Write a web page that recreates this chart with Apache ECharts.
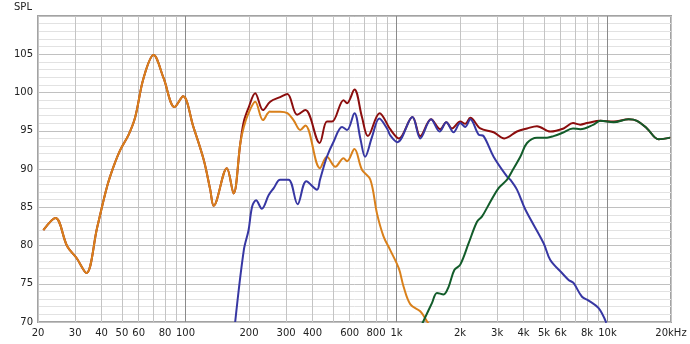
<!DOCTYPE html>
<html>
<head>
<meta charset="utf-8">
<script src="https://cdn.jsdelivr.net/npm/echarts@6/dist/echarts.min.js"></script>
<style>html,body{margin:0;padding:0;background:#fff}#chart{width:690px;height:344px}</style>
</head>
<body>
<div id="chart"></div>
<script>
// ---- data (frequency in Hz, SPL in dB) ----
const wooferHz = [21.2,24.2,27.5,30.4,33.9,38.1,42.5,45.6,49.1,53.8,57.8,63.3,70.6,78.7,88.8,97.4,109,122,131,136,157,169,182,189,199,214,233,252,281,304,325,350,370,434,468,513,561,583,632,686,752,808,868,934,1026,1081,1164,1296,1394,1460];
const wooferDb = [82.0,83.6,79.9,78.4,76.4,82.3,87.7,90.3,92.5,94.5,96.8,101.9,104.9,101.9,98.1,99.5,95.5,91.2,87.3,85.2,90.1,86.8,93.4,95.5,97.3,98.8,96.4,97.5,97.5,97.3,96.4,95.1,95.7,90.1,91.6,90.3,91.4,91.0,92.6,89.9,88.6,84.2,81.2,79.4,77.0,74.6,72.3,71.4,70.1,69.2];

const midHz = [172,189,199,207,216,230,248,262,281,308,340,374,420,434,468,504,552,583,632,674,710,766,829,902,934,1010,1190,1296,1458,1601,1722,1865,2006,2119,2238,2450,2588,2886,3342,3464,3724,4080,4980,5358,6086,6542,6900,7572,8140,9080,9872];
const midDb = [70.0,79.4,82.0,85.1,85.9,84.8,86.6,87.5,88.6,88.6,85.4,88.4,87.3,88.6,91.6,93.6,95.5,95.1,97.3,94.0,91.6,94.2,96.6,95.3,94.4,93.5,96.8,94.0,96.5,94.9,96.1,94.8,96.0,95.5,96.5,94.5,94.3,91.6,89.0,88.6,87.3,84.7,80.3,78.1,76.4,75.5,75.1,73.3,72.8,71.8,69.9];

const tweeterHz = [1320,1474,1556,1672,1766,1880,2006,2198,2408,2544,2732,3048,3342,3528,3862,4156,4634,5170,5554,6086,6864,7432,8598,9248,10692,12590,13806,15392,17470,19840];
const tweeterDb = [69.7,72.5,73.8,73.6,74.6,76.8,77.5,80.3,83.1,83.8,85.3,87.5,88.6,89.7,91.6,93.4,94.1,94.1,94.3,94.7,95.3,95.2,95.8,96.3,96.1,96.5,96.3,95.3,93.9,94.1];

const sumHz = [21.2,24.2,27.5,30.4,33.9,38.1,42.5,45.6,49.1,53.8,57.8,63.3,70.6,78.7,88.8,97.4,109,122,131,136,157,169,182,189,199,214,233,252,281,304,338,370,432,468,495,561,583,632,686,732,832,934,1026,1190,1296,1458,1613,1722,1832,2006,2119,2238,2496,2886,3244,3724,4156,4634,5358,6194,6864,7432,7998,9248,10692,12590,13806,15392,17470,19840];
const sumDb = [82.0,83.6,79.9,78.4,76.4,82.3,87.7,90.3,92.5,94.5,96.8,101.9,104.9,101.9,98.1,99.5,95.5,91.2,87.3,85.2,90.1,86.8,93.4,96.2,98.0,99.9,97.7,98.8,99.4,99.8,97.1,97.7,93.4,96.2,96.2,99.0,98.6,100.4,96.8,94.3,97.3,95.2,94.0,96.8,94.3,96.5,95.2,96.1,95.3,96.2,95.9,96.7,95.3,94.8,94.0,94.9,95.3,95.6,94.9,95.3,96.0,95.8,96.0,96.3,96.2,96.5,96.3,95.3,93.9,94.1];

const xTicksHz = [20,30,40,50,60,70,80,90,100,200,300,400,500,600,700,800,900,1000,2000,3000,4000,5000,6000,7000,8000,9000,10000,20000];
const xLabelHz = [20,30,40,50,60,80,100,200,300,400,600,800,1000,2000,3000,4000,5000,6000,8000,10000,20000];
const xLabelText = ['20','30','40','50','60','80','100','200','300','400','600','800','1k','2k','3k','4k','5k','6k','8k','10k','20kHz'];
const yLabels = [70,75,80,85,90,95,100,105];

// ---- chart ----
const lg = v => Math.log10(v);
const pts = (hz, db) => hz.map((f, i) => [lg(f), db[i]]);
const labelMap = {};
xLabelHz.forEach((f, i) => { labelMap[f] = xLabelText[i]; });
const decade = new Set([100, 1000, 10000]);
const xLineColors = xTicksHz.map(f => decade.has(f) ? '#8a8a8a' : '#c4c4c4');
const yLineColors = ['#c0c0c0', '#e2e2e2', '#e2e2e2', '#e2e2e2', '#e2e2e2'];
const font = 'DejaVu Sans';

const chart = echarts.init(document.getElementById('chart'), null, {renderer: 'canvas'});
const lineSeries = (name, hz, db, color) => ({
  name, type: 'line', data: pts(hz, db), showSymbol: false, symbol: 'none',
  smooth: 0.35, clip: true,
  lineStyle: {color, width: 2}, itemStyle: {color}, silent: true
});
chart.setOption({
  animation: false,
  backgroundColor: '#fff',
  grid: {left: 38, right: 19, top: 16, bottom: 22, show: true, borderColor: '#a3a3a3', borderWidth: 2, backgroundColor: '#fff'},
  graphic: [{type: 'text', left: 14, top: 2, style: {text: 'SPL', font: '10px "DejaVu Sans"', fill: '#222'}}],
  xAxis: {
    type: 'value', min: lg(20), max: lg(20000),
    axisLine: {show: false},
    axisTick: {show: false, customValues: xTicksHz.map(lg)},
    splitLine: {show: true, lineStyle: {color: xLineColors, width: 1}},
    axisLabel: {
      customValues: xLabelHz.map(lg), margin: 6,
      color: '#222', fontFamily: font, fontSize: 10,
      formatter: v => labelMap[Math.round(Math.pow(10, v))] || ''
    }
  },
  yAxis: {
    type: 'value', min: 70, max: 110, interval: 1,
    axisLine: {show: false}, axisTick: {show: false},
    splitLine: {show: true, lineStyle: {color: yLineColors, width: 1}},
    axisLabel: {
      margin: 5, color: '#222', fontFamily: font, fontSize: 10,
      formatter: v => yLabels.includes(v) ? String(v) : ''
    }
  },
  series: [
    lineSeries('Sum', sumHz, sumDb, '#8b0d0d'),
    lineSeries('Woofer', wooferHz, wooferDb, '#d9801b'),
    lineSeries('Mid', midHz, midDb, '#3737a3'),
    lineSeries('Tweeter', tweeterHz, tweeterDb, '#125c2a')
  ]
});
</script>
</body>
</html>
